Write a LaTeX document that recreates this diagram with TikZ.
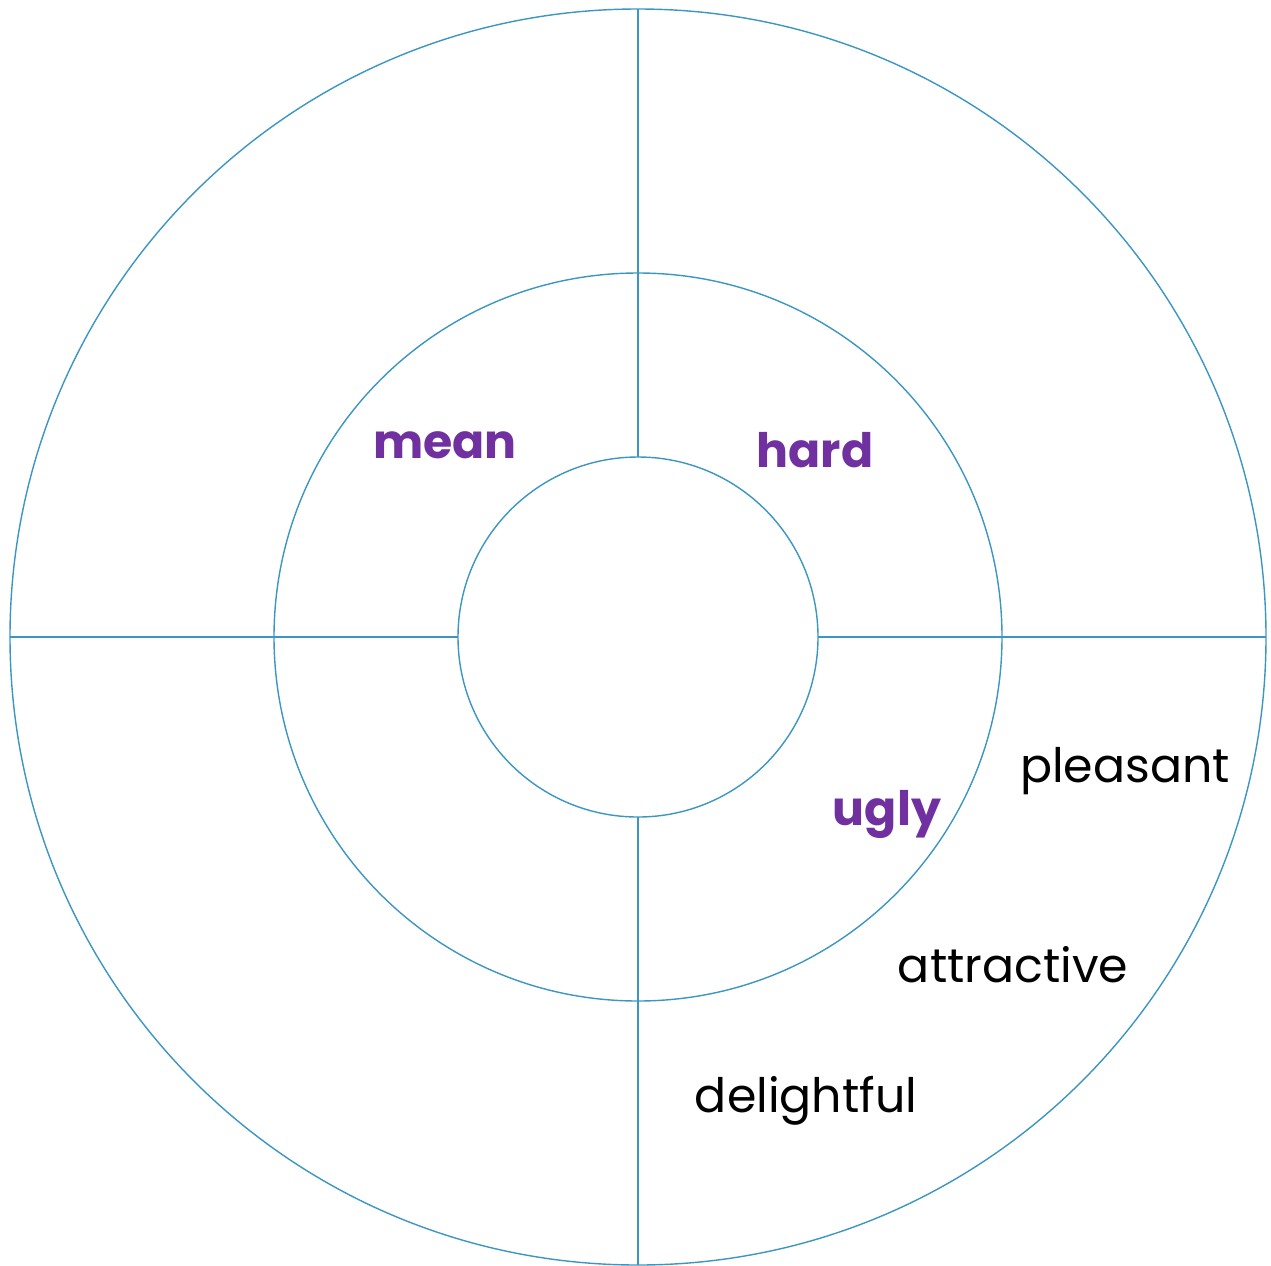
\documentclass[tikz,border=0pt]{standalone}
\usepackage{fontspec}
\setmainfont{Poppins}
\usetikzlibrary{math,calc}
\definecolor{wblue}{RGB}{60,150,195}
\definecolor{wpurple}{RGB}{112,48,160}

\tikzset{
  ring/.style={draw=wblue,line width=0.8pt},
  spoke/.style={draw=wblue,line width=0.8pt},
  hotword/.style={color=wpurple,font=\fontsize{27}{30}\selectfont\bfseries},
  coolword/.style={color=black,font=\fontsize{27}{30}\selectfont},
}

\begin{document}
\begin{tikzpicture}[x=0.02cm,y=-0.02cm]
\tikzmath{
\Ro=628;
\Rm=364;
\Ri=180;
}
\useasboundingbox (0,0) rectangle (1271,1265);
\coordinate (c) at (638,637);

\draw[ring] (c) circle (\Ro);
\draw[ring] (c) circle (\Rm);
\draw[ring] (c) circle (\Ri);

% spokes, cut at the inner ring
\draw[spoke] ($(c)+(0,-\Ro)$) -- ($(c)+(0,-\Ri)$);
\draw[spoke] ($(c)+(0,\Ri)$) -- ($(c)+(0,\Ro)$);
\draw[spoke] ($(c)+(-\Ro,0)$) -- ($(c)+(-\Ri,0)$);
\draw[spoke] ($(c)+(\Ri,0)$) -- ($(c)+(\Ro,0)$);

\node[hotword] (mean) at (445,445) {mean};
\node[hotword] (hard) at (815,450) {hard};
\node[hotword] (ugly) at (887,814) {ugly};
\node[coolword] (pleasant) at (1125,771) {pleasant};
\node[coolword] (attractive) at (1013,965) {attractive};
\node[coolword] (delightful) at (806,1101) {delightful};

\end{tikzpicture}
\end{document}
